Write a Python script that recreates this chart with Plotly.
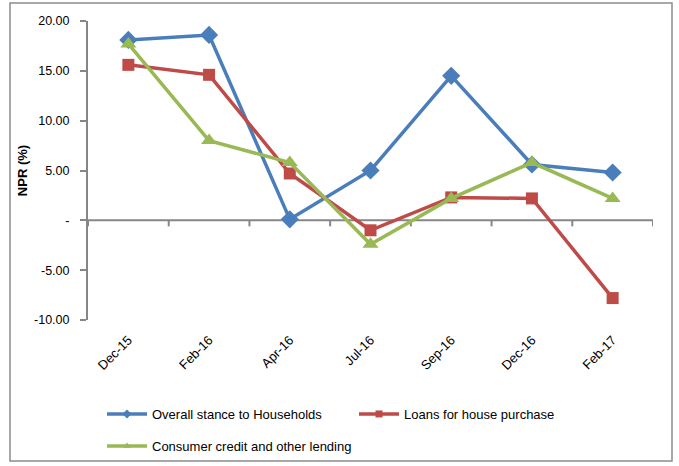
import plotly.graph_objects as go

categories = ["Dec-15", "Feb-16", "Apr-16", "Jul-16", "Sep-16", "Dec-16", "Feb-17"]
overall_households = [18.1, 18.6, 0.1, 5.0, 14.5, 5.6, 4.8]
house_purchase = [15.6, 14.6, 4.7, -1.0, 2.3, 2.2, -7.8]
consumer_credit = [17.7, 8.0, 5.8, -2.4, 2.2, 5.8, 2.2]

y_ticks = [20, 15, 10, 5, 0, -5, -10]
y_tick_text = ["20.00", "15.00", "10.00", "5.00", "-", "-5.00", "-10.00"]

FONT = "Liberation Sans, Arial, sans-serif"
AXIS_GREY = "#868686"

series = [
    ("Overall stance to Households", overall_households, "#4A7EBB", "diamond", 14, "legend"),
    ("Loans for house purchase", house_purchase, "#BE4B48", "square", 12, "legend"),
    ("Consumer credit and other lending", consumer_credit, "#98B954", "triangle-up", 14, "legend2"),
]

x_idx = list(range(len(categories)))

fig = go.Figure()
for name, values, color, symbol, size, leg in series:
    fig.add_trace(go.Scatter(
        x=x_idx, y=values, name=name, mode="lines+markers",
        line=dict(color=color, width=3.5),
        marker=dict(symbol=symbol, size=size, color=color),
        showlegend=False,
    ))
# legend keys with smaller markers
for name, values, color, symbol, size, leg in series:
    fig.add_trace(go.Scatter(
        x=[None], y=[None], name=name, mode="lines+markers",
        line=dict(color=color, width=3.5),
        marker=dict(symbol=symbol, size=7, color=color),
        legend=leg, showlegend=True,
    ))

# horizontal category axis drawn through zero, with tick marks at category boundaries
fig.add_shape(type="line", xref="x", yref="y", x0=-0.5, x1=len(categories) - 0.5,
              y0=0, y1=0, line=dict(color=AXIS_GREY, width=2), layer="below")
for k in range(len(categories) + 1):
    fig.add_shape(type="line", xref="x", yref="y", ysizemode="pixel", yanchor=0,
                  x0=k - 0.5, x1=k - 0.5, y0=0, y1=-6,
                  line=dict(color=AXIS_GREY, width=2), layer="below")

# outer chart border
W, H = 679, 466
ml, mr, mt, mb = 88, 26, 21, 146
pw, ph = W - ml - mr, H - mt - mb
fig.add_shape(type="rect", xref="paper", yref="paper",
              x0=(10 - ml) / pw, x1=(672 - ml) / pw,
              y0=(H - mb - 461) / ph, y1=(H - mb - 3) / ph,
              line=dict(color="#8C8C8C", width=1.5), fillcolor="rgba(0,0,0,0)")

legend_common = dict(
    orientation="h", xanchor="left", yanchor="middle",
    entrywidth=197, entrywidthmode="pixels",
    font=dict(family=FONT, size=13), itemwidth=40,
    bgcolor="rgba(0,0,0,0)",
)

fig.update_layout(
    width=W, height=H,
    margin=dict(l=ml, r=mr, t=mt, b=mb, autoexpand=False),
    paper_bgcolor="white", plot_bgcolor="white",
    font=dict(family=FONT, size=13, color="black"),
    showlegend=True,
    legend=dict(legend_common, x=(102 - ml) / pw, y=(H - mb - 414) / ph),
    legend2=dict(legend_common, x=(102 - ml) / pw, y=(H - mb - 446) / ph),
    xaxis=dict(
        range=[-0.5, len(categories) - 0.5],
        tickvals=x_idx, ticktext=categories, tickangle=-45,
        showline=False, showgrid=False, zeroline=False, ticks="",
        tickfont=dict(family=FONT, size=13), ticklabelstandoff=9,
    ),
    yaxis=dict(
        range=[-10, 20], tickvals=y_ticks, ticktext=y_tick_text,
        showline=True, linecolor=AXIS_GREY, linewidth=2,
        ticks="outside", ticklen=6, tickwidth=2, tickcolor=AXIS_GREY,
        showgrid=False, zeroline=False,
        tickfont=dict(family=FONT, size=12.5), ticklabelstandoff=8,
        title=dict(text="<b>NPR (%)</b>", font=dict(family=FONT, size=13), standoff=3),
    ),
)

fig.write_html("out.html")
